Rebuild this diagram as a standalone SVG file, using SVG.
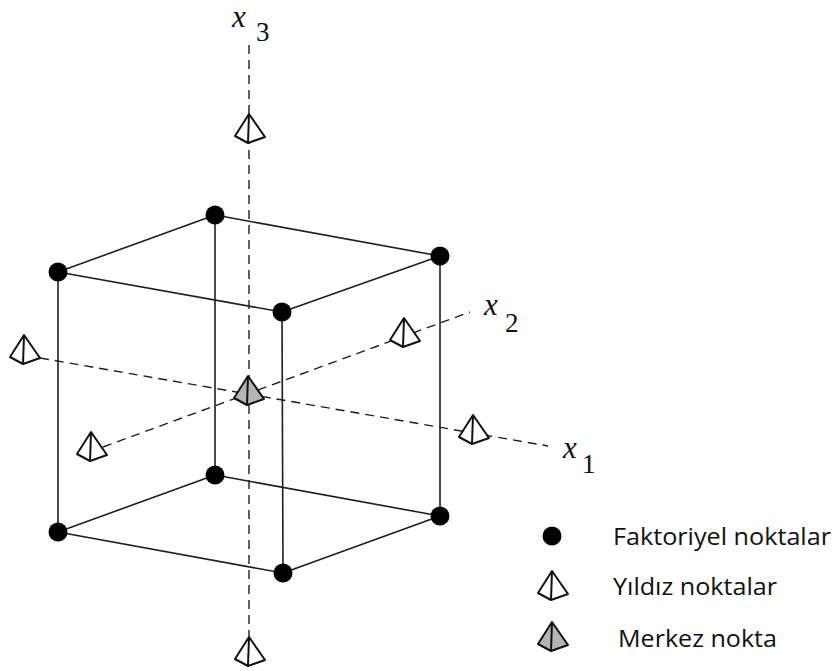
<svg xmlns="http://www.w3.org/2000/svg" xmlns:xlink="http://www.w3.org/1999/xlink" width="836" height="671" viewBox="0 0 836 671">
  <style>
    .edge { stroke: #1e1e1e; stroke-width: 1.6; fill: none; }
    .axis { stroke: #1e1e1e; stroke-width: 1.4; fill: none; stroke-dasharray: 9 6; }
    .vertex { fill: #000; }
    .star { fill: #fff; stroke: #111; stroke-width: 2; stroke-linejoin: round; }
    .center { fill: #b4b4b4; stroke: #111; stroke-width: 2; stroke-linejoin: round; }
    .var { font-family: "Liberation Serif", "DejaVu Serif", serif; font-style: italic; font-size: 31px; fill: #111; }
    .sub { font-family: "Liberation Serif", "DejaVu Serif", serif; font-size: 27px; fill: #111; }
    .legend { font-family: "Open Sans", "Liberation Sans", sans-serif; font-size: 24px; fill: #111; }
  </style>
  <defs>
    <!-- pyramid glyph for axial (star) points, centred on its axis crossing -->
    <g id="pyramid">
      <path d="M0,-17 L-14,5 L-1,12 L16,6 Z M0,-17 L-1,12"/>
    </g>
  </defs>

  <rect width="836" height="671" fill="#fff"/>

  <!-- coordinate axes -->
  <g id="connectors">
    <line class="axis" x1="249" y1="45" x2="249" y2="640"/>
    <line class="axis" x1="40" y1="358" x2="548" y2="446"/>
    <line class="axis" x1="103" y1="447" x2="470" y2="312"/>
    <!-- cube edges -->
    <line class="edge" x1="215" y1="215" x2="58" y2="272"/>
    <line class="edge" x1="215" y1="215" x2="440" y2="256"/>
    <line class="edge" x1="58" y1="272" x2="282" y2="312"/>
    <line class="edge" x1="282" y1="312" x2="440" y2="256"/>
    <line class="edge" x1="215" y1="475" x2="58" y2="532"/>
    <line class="edge" x1="215" y1="475" x2="440" y2="516"/>
    <line class="edge" x1="58" y1="532" x2="283" y2="573"/>
    <line class="edge" x1="283" y1="573" x2="440" y2="516"/>
    <line class="edge" x1="215" y1="215" x2="215" y2="475"/>
    <line class="edge" x1="58" y1="272" x2="58" y2="532"/>
    <line class="edge" x1="282" y1="312" x2="283" y2="573"/>
    <line class="edge" x1="440" y1="256" x2="440" y2="516"/>
  </g>

  <!-- factorial points (cube corners) -->
  <g id="factorial-points">
    <circle class="vertex" cx="215" cy="215" r="9.5"/>
    <circle class="vertex" cx="58" cy="272" r="9.5"/>
    <circle class="vertex" cx="282" cy="312" r="9.5"/>
    <circle class="vertex" cx="440" cy="256" r="9.5"/>
    <circle class="vertex" cx="215" cy="475" r="9.5"/>
    <circle class="vertex" cx="58" cy="532" r="9.5"/>
    <circle class="vertex" cx="283" cy="573" r="9.5"/>
    <circle class="vertex" cx="440" cy="516" r="9.5"/>
  </g>

  <!-- axial (star) points -->
  <g id="star-points">
    <use xlink:href="#pyramid" class="star" transform="translate(249,131)"/>
    <use xlink:href="#pyramid" class="star" transform="translate(249,654)"/>
    <use xlink:href="#pyramid" class="star" transform="translate(24,352)"/>
    <use xlink:href="#pyramid" class="star" transform="translate(473,432)"/>
    <use xlink:href="#pyramid" class="star" transform="translate(91,449)"/>
    <use xlink:href="#pyramid" class="star" transform="translate(404,335)"/>
  </g>

  <!-- centre point -->
  <g id="center-point">
    <use xlink:href="#pyramid" class="center" transform="translate(248,393)"/>
  </g>

  <!-- axis labels -->
  <g id="label-x3">
    <text class="var" x="232" y="27">x</text>
    <text class="sub" x="256" y="41">3</text>
  </g>
  <g id="label-x2">
    <text class="var" x="484" y="315">x</text>
    <text class="sub" x="505" y="332">2</text>
  </g>
  <g id="label-x1">
    <text class="var" x="563" y="458">x</text>
    <text class="sub" x="582" y="473">1</text>
  </g>

  <!-- legend -->
  <g id="legend">
    <circle class="vertex" cx="552" cy="536" r="9.5"/>
    <text class="legend" x="613" y="545" textLength="218" lengthAdjust="spacingAndGlyphs">Faktoriyel noktalar</text>
    <use xlink:href="#pyramid" class="star" transform="translate(552,588)"/>
    <text class="legend" x="613" y="595" textLength="164" lengthAdjust="spacingAndGlyphs">Yıldız noktalar</text>
    <use xlink:href="#pyramid" class="center" transform="translate(552,639)"/>
    <text class="legend" x="618" y="647" textLength="159" lengthAdjust="spacingAndGlyphs">Merkez nokta</text>
  </g>
</svg>
